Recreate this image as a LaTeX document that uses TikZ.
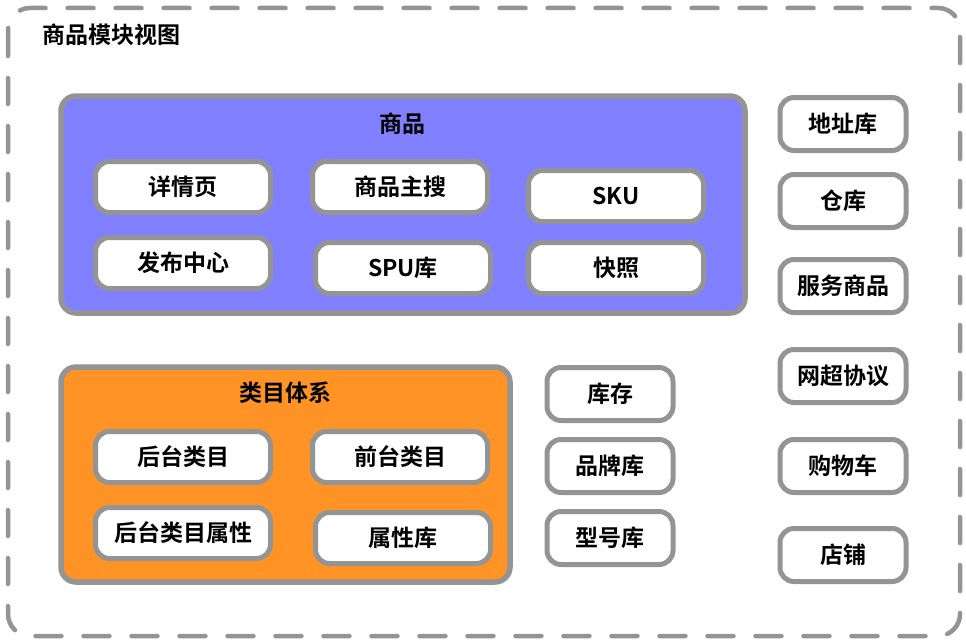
\documentclass[tikz,border=0pt]{standalone}
\usepackage{fontspec}
\setmainfont{Noto Sans CJK SC}[BoldFont=* Bold]
\definecolor{lgray}{RGB}{148,148,148}
\definecolor{goodsblue}{RGB}{128,128,255}
\definecolor{catorange}{RGB}{255,147,38}
\tikzset{
  item/.style={draw=lgray, line width=5pt, fill=white, rounded corners=14pt,
    minimum width=175pt, minimum height=51pt, inner sep=0pt,
    font=\bfseries\fontsize{23}{23}\selectfont},
  smallitem/.style={item, minimum width=126pt, minimum height=53pt},
  bigbox/.style={draw=lgray, line width=5.5pt, rounded corners=15pt, inner sep=0pt},
  boxtitle/.style={inner sep=0pt, font=\bfseries\fontsize{23}{23}\selectfont},
  outerframe/.style={draw=lgray, line width=4.5pt, dash pattern=on 26pt off 22pt,
    line cap=round, rounded corners=22pt}
}
\begin{document}
\begin{tikzpicture}[x=1pt,y=-1pt]
\useasboundingbox (0,0) rectangle (966,642);
\draw[outerframe] (8,8) rectangle (960,636);
\node[boxtitle, anchor=west] (viewtitle) at (42,35) {商品模块视图};

% goods box
\node[bigbox, fill=goodsblue, minimum width=684pt, minimum height=217pt] (goods) at (403,204.5) {};
\node[boxtitle] (goodstitle) at (402,124) {商品};
\node[item] (detail) at (183,187) {详情页};
\node[item] (search) at (400,187) {商品主搜};
\node[item] (sku) at (616,196) {SKU};
\node[item] (publish) at (183,263) {发布中心};
\node[item] (spu) at (403,268) {SPU库};
\node[item] (snap) at (616,268) {快照};

% category box
\node[bigbox, fill=catorange, minimum width=449pt, minimum height=215pt] (cat) at (285.5,474.5) {};
\node[boxtitle] (cattitle) at (285,393) {类目体系};
\node[item] (backcat) at (183,457) {后台类目};
\node[item] (frontcat) at (400,457) {前台类目};
\node[item] (backattr) at (183,533) {后台类目属性};
\node[item] (attrlib) at (403,538) {属性库};

% middle column
\node[smallitem] (stock) at (610,394) {库存};
\node[smallitem] (brand) at (610,466) {品牌库};
\node[smallitem] (model) at (610,538) {型号库};

% right column
\node[smallitem] (addr) at (843,124) {地址库};
\node[smallitem] (wh) at (843,201) {仓库};
\node[smallitem] (svc) at (843,286) {服务商品};
\node[smallitem] (proto) at (843,376) {网超协议};
\node[smallitem] (cart) at (843,466) {购物车};
\node[smallitem] (shop) at (843,555) {店铺};
\end{tikzpicture}
\end{document}
